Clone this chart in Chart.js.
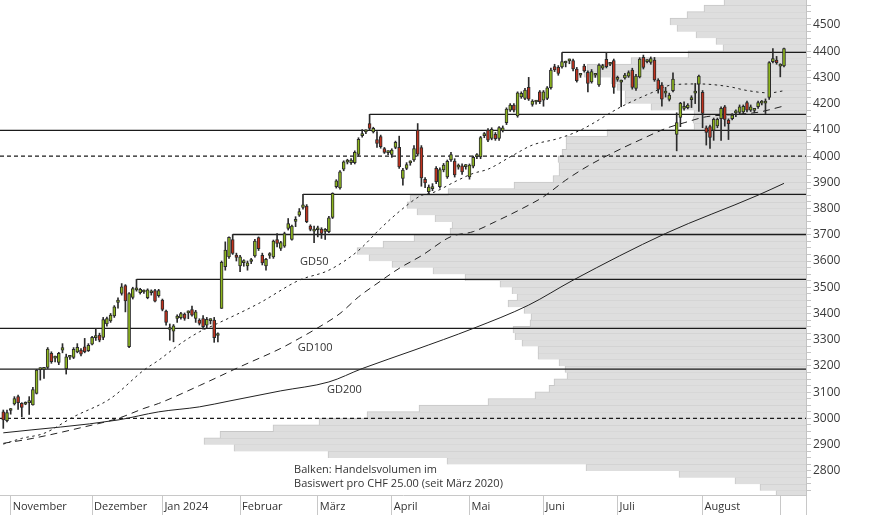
<!DOCTYPE html>
<html>
<head>
<meta charset="utf-8">
<script src="https://cdn.jsdelivr.net/npm/chart.js@4.4.1/dist/chart.umd.min.js"></script>
<style>
  html, body { margin: 0; padding: 0; background: #fff; }
  canvas { display: block; }
</style>
</head>
<body>
<canvas id="chart" width="874" height="515"></canvas>
<script>
// month axis: index of first trading day of each month
const monthStarts = [2, 24, 43, 64, 85, 105, 126, 146, 166, 189, 210];
const monthNames = ['November', 'Dezember', 'Jan 2024', 'Februar', 'März', 'April', 'Mai', 'Juni', 'Juli', 'August', ''];

// daily candles, 30.10.2023 - 03.09.2024
const opens = [3025,2991,3030,3055,3083,3057,3054,3060,3051,3095, 3186,3187,3194,3248,3230,3213,3260,3190,3233,3232,
  3253,3260,3273,3258,3283,3308,3318,3309,3360,3372, 3391,3442,3476,3506,3273,3461,3490,3479,3482,3460,
  3479,3487,3468,3451,3409,3339,3333,3381,3384,3398, 3402,3415,3381,3375,3381,3355,3373,3375,3316,3419,
  3578,3616,3682,3623,3581,3594,3581,3598,3619,3689, 3622,3581,3621,3616,3682,3648,3657,3724,3682,3751,
  3775,3804,3809,3733,3714,3719,3722,3713,3712,3766, 3883,3879,3950,3977,3975,3975,4006,4078,4092,4124,
  4092,4063,4074,4029,4013,4006,4033,4033,3915,3953, 3974,3985,4099,4032,3911,3864,3876,3953,3883,3947,
  3921,3985,3981,3958,3963,3960,3921,3962,3998,3997, 4078,4099,4067,4083,4067,4097,4127,4175,4194,4153,
  4226,4220,4262,4197,4206,4245,4213,4220,4261,4341, 4338,4340,4355,4363,4364,4332,4308,4343,4319,4283,
  4308,4271,4335,4369,4350,4364,4292,4282,4298,4305, 4328,4258,4302,4376,4360,4357,4366,4290,4271,4240,
  4216,4249,4083,4147,4182,4185,4215,4240,4274,4243, 4108,4112,4099,4115,4143,4188,4137,4143,4165,4166,
  4168,4204,4175,4174,4188,4202,4202,4224,4360,4366, 4343,4344];
const highs = [3032,3032,3038,3083,3089,3060,3063,3083,3118,3187, 3193,3193,3270,3254,3238,3252,3285,3245,3240,3270,
  3285,3266,3305,3285,3313,3343,3325,3385,3386,3400, 3430,3460,3514,3510,3480,3500,3530,3496,3490,3494,
  3490,3492,3492,3455,3413,3360,3358,3395,3404,3402, 3410,3428,3412,3380,3392,3385,3380,3385,3326,3600,
  3673,3692,3701,3630,3622,3605,3600,3610,3683,3692, 3630,3610,3632,3680,3705,3675,3710,3762,3737,3769,
  3800,3854,3815,3738,3733,3733,3727,3724,3770,3860, 3910,3945,3982,3988,3990,4020,4070,4101,4100,4159,
  4110,4093,4080,4033,4020,4028,4057,4076,3953,3975, 3982,4040,4124,4040,3918,3890,3895,3960,3955,3972,
  3985,4014,3990,3970,3970,3968,3970,4000,4010,4075, 4090,4105,4108,4090,4112,4115,4184,4200,4200,4245,
  4245,4258,4300,4215,4212,4250,4250,4265,4335,4350, 4345,4395,4362,4370,4370,4338,4315,4350,4325,4330,
  4315,4352,4350,4395,4357,4370,4305,4290,4315,4325, 4335,4312,4375,4385,4368,4378,4376,4295,4280,4262,
  4240,4317,4165,4205,4207,4200,4230,4277,4309,4250, 4115,4118,4145,4145,4188,4193,4142,4162,4176,4195,
  4195,4210,4195,4180,4210,4212,4218,4360,4410,4380, 4352,4412];
const lows = [2962,2987,3016,3051,3034,3006,3052,3015,3050,3093, 3146,3152,3190,3210,3215,3205,3250,3169,3225,3228,
  3250,3238,3250,3255,3280,3297,3292,3300,3352,3366, 3385,3420,3470,3406,3270,3455,3485,3474,3476,3456,
  3470,3444,3462,3410,3355,3298,3292,3366,3378,3374, 3380,3390,3366,3356,3340,3345,3360,3290,3292,3419,
  3565,3610,3625,3600,3559,3580,3565,3590,3615,3640, 3585,3565,3610,3610,3654,3640,3652,3718,3679,3731,
  3770,3798,3746,3715,3670,3692,3686,3682,3708,3762, 3878,3874,3944,3970,3968,3970,4000,4072,4085,4100,
  4088,4033,4030,4010,4005,3995,4028,3953,3889,3948, 3965,3980,4000,3885,3880,3855,3868,3895,3878,3940,
  3915,3980,3920,3950,3930,3950,3912,3955,3990,3990, 4070,4055,4062,4060,4060,4092,4120,4170,4168,4148,
  4220,4215,4212,4190,4198,4200,4190,4215,4255,4322, 4308,4335,4340,4352,4325,4282,4300,4320,4245,4278,
  4300,4266,4330,4336,4345,4239,4285,4188,4293,4300, 4255,4250,4298,4332,4355,4350,4285,4240,4190,4225,
  4210,4245,4020,4112,4175,4180,4185,4200,4170,4108, 4042,4029,4060,4108,4060,4114,4063,4138,4150,4160,
  4160,4168,4170,4165,4182,4195,4162,4216,4355,4350, 4302,4340];
const closes = [2994,3022,3033,3076,3060,3042,3060,3063,3110,3184, 3189,3190,3264,3216,3233,3248,3270,3235,3236,3263,
  3271,3245,3254,3279,3309,3311,3298,3377,3381,3394, 3425,3451,3502,3448,3476,3495,3493,3492,3485,3490,
  3482,3447,3487,3415,3366,3342,3353,3390,3400,3381, 3405,3394,3406,3362,3350,3378,3376,3308,3319,3595,
  3642,3690,3629,3614,3616,3597,3593,3601,3676,3647, 3593,3606,3624,3676,3667,3670,3705,3743,3733,3754,
  3788,3814,3750,3720,3717,3722,3705,3716,3765,3858, 3906,3940,3978,3980,3985,4014,4064,4081,4095,4105,
  4106,4048,4036,4014,4016,4023,4052,3959,3947,3968, 3977,4029,4007,3917,3898,3882,3879,3902,3949,3966,
  3980,4006,3928,3961,3940,3963,3966,3995,4001,4071, 4081,4061,4102,4066,4109,4108,4179,4194,4175,4241,
  4239,4252,4217,4210,4208,4207,4245,4260,4328,4328, 4315,4360,4357,4365,4332,4287,4310,4325,4277,4322,
  4311,4347,4345,4341,4353,4262,4300,4285,4309,4318, 4262,4305,4370,4338,4362,4372,4290,4254,4217,4242,
  4233,4294,4128,4201,4190,4194,4218,4243,4305,4163, 4090,4071,4140,4140,4182,4140,4124,4156,4168,4188,
  4190,4175,4188,4177,4204,4205,4205,4356,4372,4356, 4346,4410];

// moving averages: [day index, value]
const gd50 = [[0,2902],[5,2924],[11,2943],[19,3006],[29,3076],[38,3184],[42,3222],[48,3286],[53,3330],[57,3356],
  [69,3438],[80,3527],[88,3565],[96,3640],[102,3725],[108,3800],[113,3850],[116,3860],[123,3909],[127,3934],
  [131,3950],[138,4005],[143,4042],[150,4067],[156,4099],[167,4188],[175,4240],[181,4272],[188,4275],[196,4265],
  [201,4250],[207,4241],[211,4249]];
const gd100 = [[0,2905],[8,2924],[22,2968],[31,3000],[38,3038],[42,3057],[53,3125],[64,3197],[75,3267],[80,3305],
  [84,3337],[91,3400],[96,3463],[101,3514],[107,3572],[113,3620],[121,3693],[127,3712],[133,3750],[142,3813],
  [146,3845],[152,3908],[158,3962],[168,4035],[172,4061],[179,4105],[184,4127],[190,4150],[197,4158],[204,4167],[211,4191]];
const gd200 = [[0,2945],[31,2994],[42,3025],[53,3044],[61,3066],[75,3105],[88,3139],[97,3190],[111,3260],[127,3343],
  [142,3432],[154,3527],[179,3705],[204,3851],[211,3896]];

// support / resistance lines and the day they start (null = whole width)
const levels = [4395, 4159, 4098, 3854, 3701, 3530, 3343, 3188];
const levelFrom = [151, 99, null, 81, 62, 36, null, null];
const dashedLevels = [4000, 3000];

// volume profile, CHF 25 bins (lower bound) and traded volume
const volBins = [2700,2725,2750,2775,2800,2825,2850,2875,2900,2925,2950,2975,
  3000,3025,3050,3075,3100,3125,3150,3175,3200,3225,3250,3275,
  3300,3325,3350,3375,3400,3425,3450,3475,3500,3525,3550,3575,
  3600,3625,3650,3675,3700,3725,3750,3775,3800,3825,3850,3875,
  3900,3925,3950,3975,4000,4025,4050,4075,4100,4125,4150,4175,
  4200,4225,4250,4275,4300,4325,4350,4375,4400,4425,4450,4475,
  4500,4525,4550,4575];
const volumes = [30,46,71,127,220,359,478,572,602,586,533,487,
  439,387,318,271,257,252,239,241,247,268,268,284,
  291,293,276,275,282,298,289,294,306,341,373,414,
  437,449,423,392,356,354,371,389,399,396,358,292,
  253,247,247,248,244,240,240,199,112,113,112,155,
  181,181,189,195,222,219,175,118,83,90,110,129,
  136,119,102,82];

const notes = [
  {text: 'GD50', x: 80.2, y: 3598},
  {text: 'GD100', x: 79.6, y: 3269},
  {text: 'GD200', x: 87.5, y: 3110},
  {text: 'Balken: Handelsvolumen im', x: 78.6, y: 2803},
  {text: 'Basiswert pro CHF 25.00 (seit März 2020)', x: 78.6, y: 2751}
];

const X_MIN = -0.89, X_MAX = 216.95;
const Y_MIN = 2708, Y_MAX = 4595;
const GREEN = '#8db51e', RED = '#c0321e', INK = '#2b2b2b';

const yTicks = [];
for (let v = 2725; v <= 4575; v += 25) yTicks.push(v);

Chart.defaults.font.family = "'Open Sans', sans-serif";

const days = opens.map((_, i) => i);

const levelSets = levels.map((lv, k) => ({
  type: 'line',
  data: [{x: levelFrom[k] === null ? X_MIN : levelFrom[k], y: lv}, {x: X_MAX, y: lv}],
  borderColor: '#1b1b1b', borderWidth: 1.3, pointRadius: 0, order: 5
}));
const dashSets = dashedLevels.map(lv => ({
  type: 'line',
  data: [{x: X_MIN, y: lv}, {x: X_MAX, y: lv}],
  borderColor: '#1b1b1b', borderWidth: 1.1, borderDash: [4, 3], pointRadius: 0, order: 5
}));
function maLine(pts, dash) {
  return {
    type: 'line',
    data: pts.map(p => ({x: p[0], y: p[1]})),
    borderColor: '#222', borderWidth: 1, borderDash: dash,
    pointRadius: 0, cubicInterpolationMode: 'monotone', order: 4
  };
}

const notePlugin = {
  id: 'notes',
  afterDatasetsDraw(chart) {
    const {ctx, scales: {x, y}} = chart;
    ctx.save();
    ctx.font = "11px 'Open Sans'";
    ctx.fillStyle = '#333';
    ctx.textBaseline = 'middle';
    notes.forEach(n => ctx.fillText(n.text, x.getPixelForValue(n.x), y.getPixelForValue(n.y)));
    ctx.restore();
  }
};

new Chart(document.getElementById('chart'), {
  type: 'bar',
  data: {
    datasets: [
      {
        type: 'bar', indexAxis: 'y', xAxisID: 'xv', yAxisID: 'yv',
        data: volBins.map((b, i) => ({y: b + 12.5, x: volumes[i]})),
        backgroundColor: '#dedede', borderColor: '#c6c6c6',
        borderWidth: {top: 1, left: 1, bottom: 0, right: 0}, borderSkipped: false,
        barThickness: 7, grouped: false, order: 10
      },
      ...levelSets,
      ...dashSets,
      maLine(gd50, [2.5, 3.5]),
      maLine(gd100, [7, 5]),
      maLine(gd200, []),
      {
        type: 'bar', xAxisID: 'x', yAxisID: 'y',
        data: days.map(i => ({x: i, y: [lows[i], highs[i]]})),
        backgroundColor: INK, barThickness: 1, grouped: false, order: 2
      },
      {
        type: 'bar', xAxisID: 'x', yAxisID: 'y',
        data: days.map(i => ({x: i, y: [opens[i], closes[i]]})),
        backgroundColor: days.map(i => closes[i] >= opens[i] ? GREEN : RED),
        borderColor: INK, borderWidth: 1, borderSkipped: false,
        barThickness: 3, minBarLength: 2, grouped: false, order: 1
      }
    ]
  },
  options: {
    responsive: false,
    devicePixelRatio: 1,
    animation: false,
    events: [],
    layout: {padding: 0},
    plugins: {legend: {display: false}, tooltip: {enabled: false}},
    scales: {
      x: {
        type: 'linear', min: X_MIN, max: X_MAX, offset: false,
        afterBuildTicks: axis => { axis.ticks = monthStarts.concat([X_MAX]).map(v => ({value: v})); },
        afterFit: axis => { axis.height = 20; axis.paddingLeft = 0; axis.paddingRight = 0; },
        grid: {drawOnChartArea: false, tickLength: 20, color: '#c8c8c8', offset: false},
        border: {color: '#c8c8c8'},
        ticks: {
          autoSkip: false, maxRotation: 0, align: 'start', labelOffset: 2, padding: -15,
          color: '#333', font: {size: 11},
          callback: v => { const k = monthStarts.indexOf(v); return k < 0 ? '' : monthNames[k]; }
        }
      },
      y: {
        type: 'linear', position: 'right', min: Y_MIN, max: Y_MAX,
        afterBuildTicks: axis => { axis.ticks = yTicks.map(v => ({value: v})); },
        afterFit: axis => { axis.width = 68; axis.paddingTop = 0; axis.paddingBottom = 0; },
        grid: {drawOnChartArea: false, tickLength: 5, color: '#c4c4c4'},
        border: {color: '#c4c4c4'},
        ticks: {
          autoSkip: false, padding: 2, color: '#3a3a3a', font: {size: 12},
          callback: v => v % 100 === 0 ? String(v) : ''
        }
      },
      xv: {type: 'linear', display: false, min: 0, max: 806, reverse: true, offset: false},
      yv: {type: 'linear', display: false, min: Y_MIN, max: Y_MAX, offset: false}
    }
  },
  plugins: [notePlugin]
});
</script>
</body>
</html>
